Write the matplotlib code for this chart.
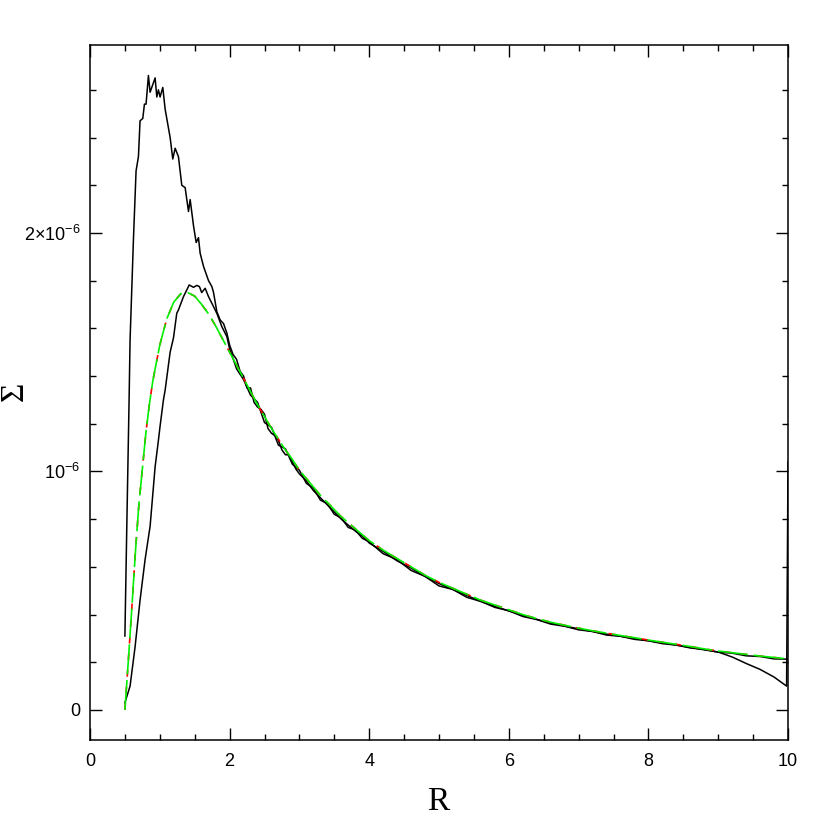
import numpy as np
import matplotlib
matplotlib.use("Agg")
import matplotlib.pyplot as plt
from matplotlib.ticker import MultipleLocator, FixedLocator, FixedFormatter

plt.rcParams['font.family'] = ['Liberation Sans', 'DejaVu Sans']
plt.rcParams['mathtext.fontset'] = 'custom'
plt.rcParams['mathtext.rm'] = 'Liberation Sans'
plt.rcParams['mathtext.default'] = 'regular'

# surface density in units of 1e-6
upper_r = [0.5, 0.526, 0.56, 0.574, 0.622, 0.66, 0.694, 0.717, 0.756, 0.78, 0.803, 0.837,
           0.861, 0.885, 0.933, 0.957, 0.98, 1.004, 1.043, 1.076, 1.148, 1.186, 1.22, 1.267,
           1.315, 1.363, 1.411, 1.435, 1.483, 1.521, 1.554, 1.578, 1.626, 1.698, 1.746, 1.77,
           1.817, 1.865, 1.913, 1.961,
           2.0, 2.05, 2.1, 2.15, 2.2, 2.25, 2.3, 2.35, 2.4, 2.45, 2.5, 2.55, 2.6, 2.65, 2.7,
           2.75, 2.8, 2.85, 2.9, 2.95, 3.0, 3.1, 3.2, 3.3, 3.4, 3.5,
           3.6, 3.7, 3.8, 3.9, 4.0, 4.2, 4.4, 4.6, 4.8, 5.0, 5.2, 5.4, 5.6, 5.8, 6.0, 6.2,
           6.4, 6.6, 6.8, 7.0, 7.2, 7.4, 7.6, 7.8, 8.0, 8.2, 8.4, 8.6, 8.8, 9.0, 9.2, 9.4,
           9.6, 9.8, 9.98, 10.0]
upper_sigma = [0.31, 0.75, 1.30, 1.55, 1.97, 2.26, 2.32, 2.47, 2.48, 2.54, 2.54, 2.66,
               2.59, 2.61, 2.65, 2.57, 2.60, 2.57, 2.61, 2.52, 2.40, 2.31, 2.355, 2.32,
               2.20, 2.19, 2.09, 2.14, 2.03, 1.96, 1.98, 1.915, 1.86, 1.80, 1.775, 1.75,
               1.67, 1.635, 1.62, 1.58,
               1.53, 1.49, 1.47, 1.42, 1.40, 1.35, 1.35, 1.29, 1.27, 1.26, 1.24, 1.18, 1.16,
               1.15, 1.13, 1.09, 1.07, 1.07, 1.04, 1.01, 0.99, 0.96, 0.92,
               0.89, 0.86, 0.83, 0.80, 0.775, 0.75, 0.73, 0.70, 0.665, 0.625, 0.595, 0.56,
               0.53, 0.505, 0.48, 0.455, 0.435, 0.415, 0.397, 0.38, 0.364, 0.352, 0.34,
               0.329, 0.318, 0.309, 0.300, 0.290, 0.281, 0.272, 0.262, 0.252, 0.243, 0.222,
               0.195, 0.170, 0.138, 0.10, 1.04]

lower_r = [0.5, 0.574, 0.646, 0.717, 0.789, 0.861, 0.933, 0.98, 1.004, 1.052, 1.076, 1.148,
           1.196, 1.243, 1.267, 1.339, 1.363, 1.41, 1.42, 1.483, 1.53, 1.568, 1.6, 1.65,
           1.698, 1.746, 1.817, 1.889, 1.961,
           2.0, 2.1, 2.2, 2.3, 2.4, 2.5, 2.6, 2.7, 2.8, 2.9, 3.0, 3.1, 3.2, 3.3, 3.4, 3.5,
           3.6, 3.7, 3.8, 3.9, 4.0, 4.2, 4.4, 4.6, 4.8, 5.0, 5.2, 5.4, 5.6, 5.8, 6.0, 6.2,
           6.4, 6.6, 6.8, 7.0, 7.2, 7.4, 7.6, 7.8, 8.0, 8.2, 8.4, 8.6, 8.8, 9.0, 9.2, 9.4,
           9.6, 9.8, 10.0]
lower_sigma = [0.03, 0.10, 0.265, 0.46, 0.63, 0.77, 1.02, 1.13, 1.19, 1.30, 1.34, 1.50,
               1.56, 1.663, 1.677, 1.733, 1.747, 1.775, 1.782, 1.772, 1.78, 1.775, 1.75, 1.768,
               1.733, 1.705, 1.663, 1.607, 1.565,
               1.515, 1.43, 1.385, 1.32, 1.29, 1.205, 1.185, 1.11, 1.095, 1.03, 1.005, 0.95,
               0.93, 0.88, 0.865, 0.82, 0.805, 0.765, 0.755, 0.72, 0.705, 0.655, 0.63, 0.585,
               0.56, 0.52, 0.505, 0.472, 0.455, 0.43, 0.416, 0.392, 0.379, 0.36, 0.351,
               0.336, 0.329, 0.314, 0.309, 0.296, 0.290, 0.278, 0.272, 0.260, 0.254, 0.242,
               0.238, 0.227, 0.224, 0.214, 0.213]

model_r = [0.5, 0.55, 0.6, 0.65, 0.7, 0.75, 0.8, 0.85, 0.9, 1.0, 1.1, 1.2, 1.3, 1.4, 1.5,
           1.6, 1.7, 1.8, 1.9, 2.0, 2.1, 2.2, 2.3, 2.4, 2.5, 2.6, 2.7, 2.8, 2.9, 3.0, 3.1,
           3.2, 3.3, 3.4, 3.5, 3.6, 3.7, 3.8, 3.9, 4.0, 4.2, 4.4, 4.6, 4.8, 5.0, 5.2, 5.4,
           5.6, 5.8, 6.0, 6.2, 6.4, 6.6, 6.8, 7.0, 7.2, 7.4, 7.6, 7.8, 8.0, 8.2, 8.4, 8.6,
           8.8, 9.0, 9.2, 9.4, 9.6, 9.8, 10.0]
model_sigma = [0.0, 0.21, 0.43, 0.66, 0.86, 1.01, 1.16, 1.28, 1.38, 1.53, 1.64, 1.71, 1.745,
               1.75, 1.735, 1.70, 1.66, 1.61, 1.555, 1.50, 1.445, 1.39, 1.335, 1.28, 1.23,
               1.18, 1.135, 1.09, 1.05, 1.005, 0.97, 0.935, 0.90, 0.87, 0.84, 0.81, 0.785,
               0.76, 0.735, 0.71, 0.67, 0.635, 0.60, 0.565, 0.535, 0.51, 0.485, 0.46, 0.44,
               0.42, 0.40, 0.383, 0.368, 0.355, 0.343, 0.332, 0.322, 0.312, 0.303, 0.293,
               0.284, 0.275, 0.266, 0.256, 0.247, 0.240, 0.233, 0.226, 0.220, 0.214]

scale = 1e-6

fig = plt.figure(figsize=(8.3, 8.3), dpi=100)
ax = fig.add_axes([90/830, 1-740/830, 698/830, 695/830])

ax.plot(upper_r, np.array(upper_sigma)*scale, color='black', lw=1.1)
ax.plot(lower_r, np.array(lower_sigma)*scale, color='black', lw=1.1)
ax.plot(model_r, np.array(model_sigma)*scale, color='red', lw=1.2, dashes=(4, 6))
ax.plot(model_r, np.array(model_sigma)*scale, color='#00ee00', lw=1.2, dashes=(18, 3.5))

ax.set_xlim(0, 10)
ax.set_ylim(-0.126e-6, 2.788e-6)

ax.xaxis.set_major_locator(MultipleLocator(2))
ax.xaxis.set_minor_locator(MultipleLocator(0.5))
ax.yaxis.set_major_locator(FixedLocator([0, 1e-6, 2e-6]))
ax.yaxis.set_major_formatter(FixedFormatter(['0', r'$10^{-6}$', r'$2{\times}10^{-6}$']))
ax.yaxis.set_minor_locator(MultipleLocator(0.2e-6))

ax.tick_params(which='both', direction='in', top=True, right=True, labelsize=13, width=1)
ax.tick_params(which='major', length=8.5)
ax.tick_params(which='minor', length=4.3)
ax.tick_params(axis='x', pad=9)
ax.tick_params(axis='y', pad=7)
for s in ax.spines.values():
    s.set_linewidth(1.1)

fig.text(438/830, 1-802/830, 'R', family='Liberation Serif', fontsize=24, ha='center', va='center')
fig.text(16/830, 1-393/830, r'$\Sigma$', family='Liberation Serif', fontsize=24,
         ha='center', va='center', rotation=90)

fig.savefig('out.png', dpi=100)
